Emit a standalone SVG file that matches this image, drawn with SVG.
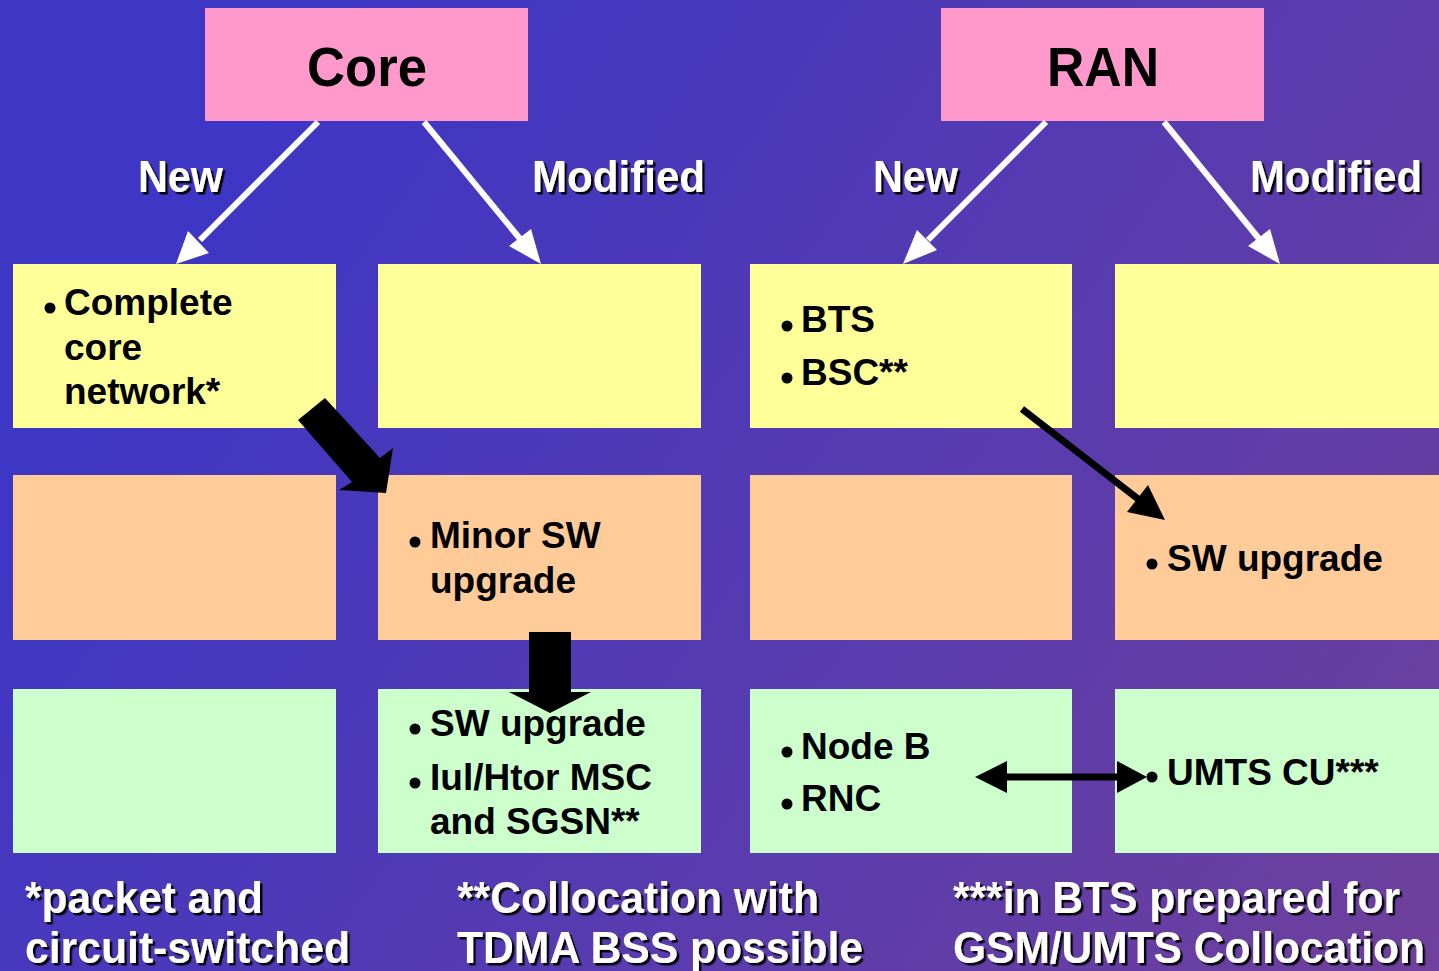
<svg xmlns="http://www.w3.org/2000/svg" width="1439" height="971" viewBox="0 0 1439 971">
<defs>
<linearGradient id="bg" gradientUnits="userSpaceOnUse" x1="250" y1="150" x2="1439" y2="971">
<stop offset="0" stop-color="#3e36c4"/>
<stop offset="1" stop-color="#6f409c"/>
</linearGradient>
<filter id="sh" x="-5%" y="-10%" width="115%" height="130%">
<feDropShadow dx="2.5" dy="2.5" stdDeviation="0.4" flood-color="#000" flood-opacity="0.95"/>
</filter>
<style>
text{font-family:"Liberation Sans",Arial,Helvetica,sans-serif;font-weight:bold}
.title{font-size:56px;fill:#000}
.lab{font-size:44px;fill:#fff;filter:url(#sh)}
.foot{font-size:44px;fill:#fff;filter:url(#sh)}
.t{font-size:37px;fill:#000}
.pink{fill:#ff99cc}
.yel{fill:#ffff99}
.pea{fill:#ffcc99}
.grn{fill:#ccffcc}
.wl{stroke:#fff;stroke-width:6;fill:none}
.wh{fill:#fff}
.bk{fill:#000}
.bl{stroke:#000;stroke-width:7;fill:none}
circle{fill:#000}
</style>
</defs>
<rect width="1439" height="971" fill="url(#bg)"/>

<g id="core"><rect class="pink" x="205" y="8" width="323" height="113"/><text class="title" x="367" y="86" text-anchor="middle" textLength="120" lengthAdjust="spacingAndGlyphs">Core</text></g>
<g id="ran"><rect class="pink" x="941" y="8" width="323" height="113"/><text class="title" x="1103" y="86" text-anchor="middle" textLength="112" lengthAdjust="spacingAndGlyphs">RAN</text></g>

<g id="core-new"><rect class="yel" x="13" y="264" width="323" height="164"/>
<circle cx="50" cy="308" r="5.5"/>
<text class="t" x="64" y="315">Complete</text><text class="t" x="64" y="360">core</text><text class="t" x="64" y="404">network*</text></g>
<g id="core-mod"><rect class="yel" x="378" y="264" width="323" height="164"/></g>
<g id="ran-new"><rect class="yel" x="750" y="264" width="322" height="164"/>
<circle cx="787" cy="326" r="5.5"/><text class="t" x="801" y="332">BTS</text>
<circle cx="787" cy="378" r="5.5"/><text class="t" x="801" y="385">BSC**</text></g>
<g id="ran-mod"><rect class="yel" x="1115" y="264" width="324" height="164"/></g>

<g id="r2c1"><rect class="pea" x="13" y="475" width="323" height="165"/></g>
<g id="r2c2"><rect class="pea" x="378" y="475" width="323" height="165"/>
<circle cx="415" cy="542" r="5.5"/><text class="t" x="430" y="548">Minor SW</text><text class="t" x="430" y="593">upgrade</text></g>
<g id="r2c3"><rect class="pea" x="750" y="475" width="322" height="165"/></g>
<g id="r2c4"><rect class="pea" x="1115" y="475" width="324" height="165"/>
<circle cx="1152" cy="564" r="5.5"/><text class="t" x="1167" y="571">SW upgrade</text></g>

<g id="r3c1"><rect class="grn" x="13" y="689" width="323" height="164"/></g>
<g id="r3c2"><rect class="grn" x="378" y="689" width="323" height="164"/>
<circle cx="415" cy="729" r="5.5"/><text class="t" x="430" y="736">SW upgrade</text>
<circle cx="415" cy="783" r="5.5"/><text class="t" x="430" y="790">Iul/Htor MSC</text><text class="t" x="430" y="834">and SGSN**</text></g>
<g id="r3c3"><rect class="grn" x="750" y="689" width="322" height="164"/>
<circle cx="787" cy="752" r="5.5"/><text class="t" x="801" y="759">Node B</text>
<circle cx="787" cy="804" r="5.5"/><text class="t" x="801" y="811">RNC</text></g>
<g id="r3c4"><rect class="grn" x="1115" y="689" width="324" height="164"/>
<circle cx="1152" cy="777" r="5.5"/><text class="t" x="1167" y="785">UMTS CU***</text></g>

<g id="labels">
<text class="lab" x="138" y="192" textLength="85" lengthAdjust="spacingAndGlyphs">New</text>
<text class="lab" x="532" y="192" textLength="173" lengthAdjust="spacingAndGlyphs">Modified</text>
<text class="lab" x="873" y="192" textLength="85" lengthAdjust="spacingAndGlyphs">New</text>
<text class="lab" x="1250" y="192" textLength="172" lengthAdjust="spacingAndGlyphs">Modified</text>
</g>

<g id="connectors">
<line class="wl" x1="318" y1="122" x2="200" y2="240"/>
<polygon class="wh" points="176,264 188,231 209,253"/>
<line class="wl" x1="424" y1="122" x2="521" y2="240"/>
<polygon class="wh" points="541,264 509,246 531,229"/>
<line class="wl" x1="1046" y1="122" x2="928" y2="240"/>
<polygon class="wh" points="903,264 917,230 937,250"/>
<line class="wl" x1="1164" y1="122" x2="1260" y2="240"/>
<polygon class="wh" points="1280,264 1248,246 1270,229"/>

<polygon class="bk" points="298,420 325,398 380,458 393,448 386,493 339,490 352,482"/>
<polygon class="bk" points="529,632 571,632 571,692 591,692 550,713 509,692 529,692"/>

<line class="bl" x1="1022" y1="409" x2="1142" y2="502"/>
<polygon class="bk" points="1165,520 1127,512 1148,485"/>

<line class="bl" stroke-width="6" x1="1000" y1="777" x2="1122" y2="777"/>
<polygon class="bk" points="975,777 1007,761 1007,793"/>
<polygon class="bk" points="1147,777 1117,761 1117,793"/>
</g>

<g id="footnotes">
<text class="foot" x="25" y="913" textLength="238" lengthAdjust="spacingAndGlyphs">*packet and</text>
<text class="foot" x="25" y="963" textLength="325" lengthAdjust="spacingAndGlyphs">circuit-switched</text>
<text class="foot" x="457" y="913" textLength="362" lengthAdjust="spacingAndGlyphs">**Collocation with</text>
<text class="foot" x="457" y="963" textLength="406" lengthAdjust="spacingAndGlyphs">TDMA BSS possible</text>
<text class="foot" x="953" y="913" textLength="447" lengthAdjust="spacingAndGlyphs">***in BTS prepared for</text>
<text class="foot" x="953" y="963" textLength="472" lengthAdjust="spacingAndGlyphs">GSM/UMTS Collocation</text>
</g>
</svg>
